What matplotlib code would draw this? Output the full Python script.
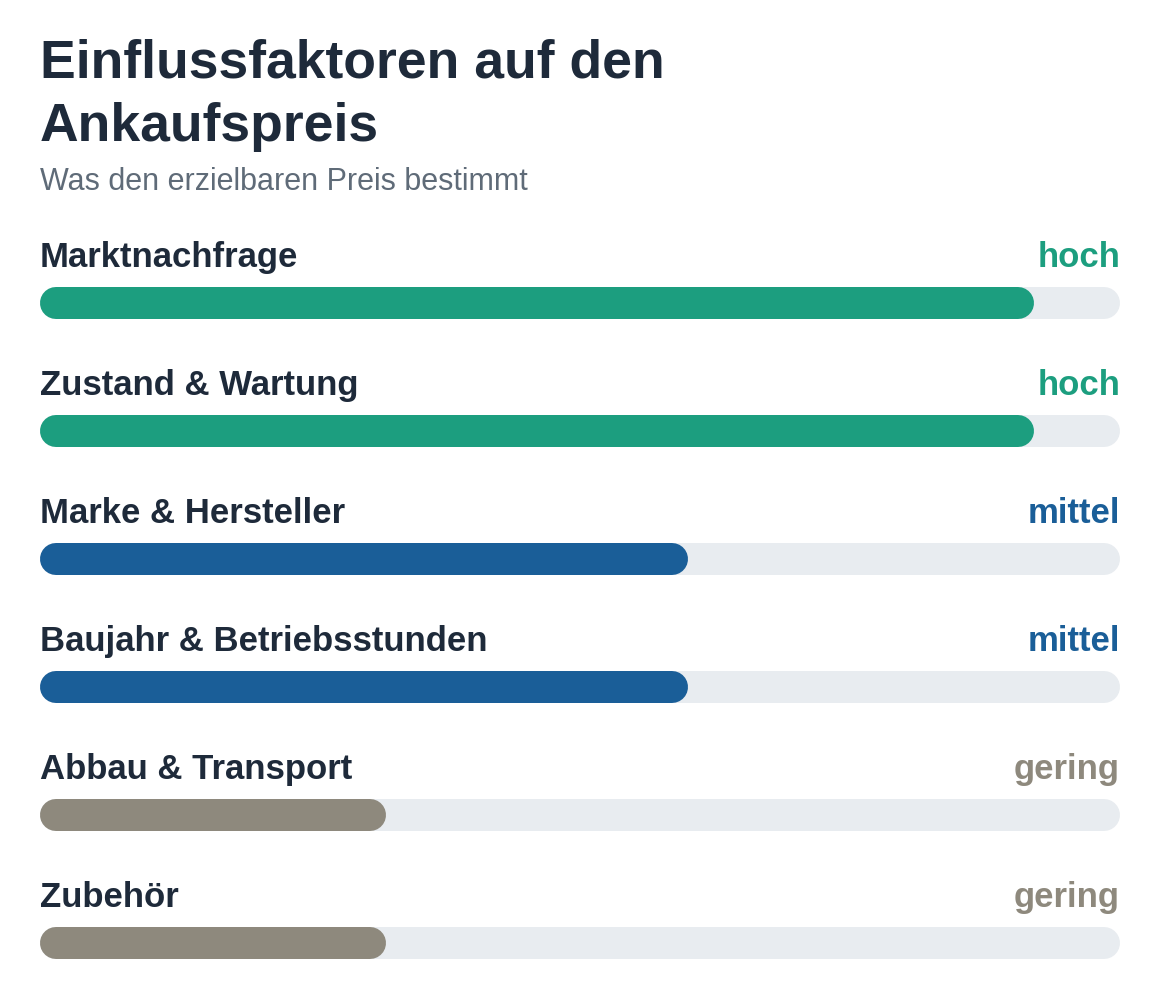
import matplotlib
matplotlib.use("Agg")
import matplotlib.pyplot as plt

categories = ["Marktnachfrage", "Zustand & Wartung", "Marke & Hersteller",
              "Baujahr & Betriebsstunden", "Abbau & Transport", "Zubehör"]
values = [0.92, 0.92, 0.60, 0.60, 0.32, 0.32]
levels = ["hoch", "hoch", "mittel", "mittel", "gering", "gering"]
level_colors = {"hoch": "#1c9e7f", "mittel": "#1a5e98", "gering": "#8e897d"}

W, H = 1160, 1004
fig = plt.figure(figsize=(W/100, H/100), dpi=100)
ax = fig.add_axes([0, 0, 1, 1])
span = 1080
ax.set_xlim(-40/span, 1120/span)
ax.set_ylim(H, 0)
ax.axis("off")
plt.rcParams['font.family'] = ['Liberation Sans', 'DejaVu Sans']

dark = "#1e2a3a"
ax.text(0, 64, "Einflussfaktoren auf den", fontsize=38.5, fontweight="bold", color=dark, va="center")
ax.text(0, 127, "Ankaufspreis", fontsize=38.5, fontweight="bold", color=dark, va="center")
ax.text(0, 182, "Was den erzielbaren Preis bestimmt", fontsize=22, color="#5f6b78", va="center")

lw = 32 * 72 / 100
r = 16 / span
for i, (cat, v, lev) in enumerate(zip(categories, values, levels)):
    yb = 304 + 128 * i
    yl = 258 + 128 * i
    c = level_colors[lev]
    ax.text(0, yl, cat, fontsize=25, fontweight="bold", color=dark, va="center")
    ax.text(1, yl, lev, fontsize=25, fontweight="bold", color=c, va="center", ha="right")
    ax.plot([r, 1 - r], [yb, yb], color="#e8ecf0", lw=lw, solid_capstyle="round")
    ax.plot([r, v - r], [yb, yb], color=c, lw=lw, solid_capstyle="round")

fig.savefig("out.png", dpi=100, facecolor="white")
